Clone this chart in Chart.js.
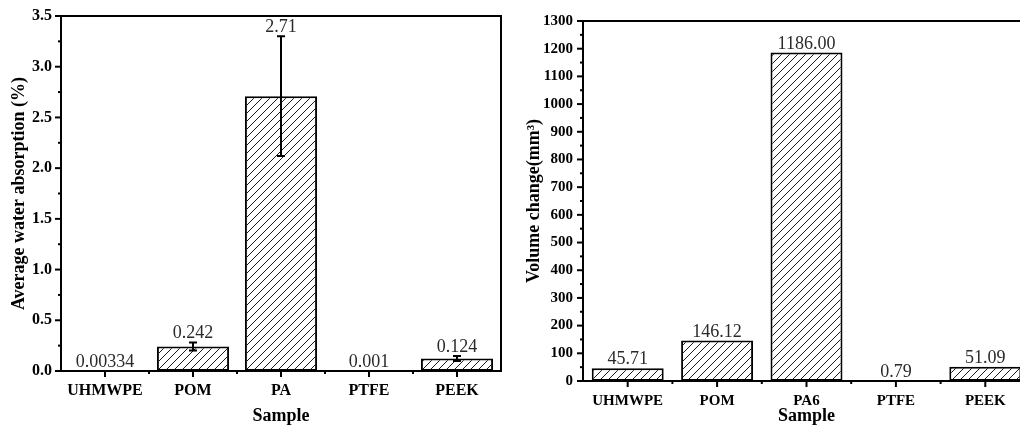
<!DOCTYPE html>
<html>
<head>
<meta charset="utf-8">
<script src="https://cdn.jsdelivr.net/npm/chart.js@4.4.1/dist/chart.umd.min.js"></script>
<style>
  html, body { margin: 0; padding: 0; background: #fff; }
  #wrap { position: relative; width: 1020px; height: 428px; overflow: hidden; background: #fff; }
  #absChart { position: absolute; left: 0; top: 0; }
  #volChart { position: absolute; left: 500px; top: 0; }
</style>
</head>
<body>
<div id="wrap">
  <canvas id="absChart" width="506" height="428"></canvas>
  <canvas id="volChart" width="540" height="428"></canvas>
</div>
<script>
// left panel: water absorption
const samplesA = ["UHMWPE", "POM", "PA", "PTFE", "PEEK"];
const absorption = [0.00334, 0.242, 2.71, 0.001, 0.124];
const absorptionErr = [0, 0.04, 0.59, 0, 0.025];
const absorptionTicks = ["0.0", "0.5", "1.0", "1.5", "2.0", "2.5", "3.0", "3.5"];

// right panel: volume change
const samplesB = ["UHMWPE", "POM", "PA6", "PTFE", "PEEK"];
const volume = [45.71, 146.12, 1186.0, 0.79, 51.09];
const volumeTicks = ["0", "100", "200", "300", "400", "500", "600", "700", "800", "900", "1000", "1100", "1200", "1300"];

const SERIF = "'Liberation Serif', 'Times New Roman', serif";

// diagonal hatch fill
function makeHatch() {
  const c = document.createElement("canvas");
  c.width = 8;
  c.height = 8;
  const g = c.getContext("2d");
  g.fillStyle = "#fff";
  g.fillRect(0, 0, 8, 8);
  g.strokeStyle = "#1a1a1a";
  g.lineWidth = 1;
  g.beginPath();
  g.moveTo(0, 8); g.lineTo(8, 0);
  g.moveTo(-1, 1); g.lineTo(1, -1);
  g.moveTo(7, 9); g.lineTo(9, 7);
  g.stroke();
  return g.createPattern(c, "repeat");
}
const hatch = makeHatch();

// frame, ticks, error bars and value labels
function decor(errors, fmt) {
  return {
    id: "decor",
    afterDatasetsDraw(chart) {
      const { ctx, chartArea: a, scales } = chart;
      const y = scales.y, x = scales.x;
      const bars = chart.getDatasetMeta(0).data;
      const vals = chart.data.datasets[0].data;
      ctx.save();
      ctx.strokeStyle = "#000";
      ctx.lineWidth = 2;
      // error bars
      bars.forEach((b, i) => {
        const e = errors ? errors[i] : 0;
        if (!e) return;
        const t = y.getPixelForValue(vals[i] + e);
        const bt = y.getPixelForValue(vals[i] - e);
        ctx.beginPath();
        ctx.moveTo(b.x, t); ctx.lineTo(b.x, bt);
        ctx.moveTo(b.x - 4, t); ctx.lineTo(b.x + 4, t);
        ctx.moveTo(b.x - 4, bt); ctx.lineTo(b.x + 4, bt);
        ctx.stroke();
      });
      // frame
      ctx.strokeRect(a.left, a.top, a.right - a.left, a.bottom - a.top);
      // y ticks, major + minor
      const tv = y.ticks.map((t) => t.value);
      tv.forEach((v, i) => {
        const p = y.getPixelForValue(v);
        ctx.beginPath(); ctx.moveTo(a.left - 6, p); ctx.lineTo(a.left, p); ctx.stroke();
        if (i < tv.length - 1) {
          const m = y.getPixelForValue((v + tv[i + 1]) / 2);
          ctx.beginPath(); ctx.moveTo(a.left - 3, m); ctx.lineTo(a.left, m); ctx.stroke();
        }
      });
      // x ticks at centres, minor at boundaries
      x.ticks.forEach((t, i) => {
        const p = x.getPixelForValue(i);
        ctx.beginPath(); ctx.moveTo(p, a.bottom); ctx.lineTo(p, a.bottom + 6); ctx.stroke();
        if (i > 0) {
          const m = (p + x.getPixelForValue(i - 1)) / 2;
          ctx.beginPath(); ctx.moveTo(m, a.bottom); ctx.lineTo(m, a.bottom + 3); ctx.stroke();
        }
      });
      // value labels
      ctx.fillStyle = "#2a2a2a";
      ctx.font = "18px " + SERIF;
      ctx.textAlign = "center";
      ctx.textBaseline = "alphabetic";
      bars.forEach((b, i) => {
        const e = errors ? errors[i] : 0;
        const top = Math.min(b.y, y.getPixelForValue(vals[i] + e));
        ctx.fillText(fmt(vals[i]), b.x, top - 4);
      });
      ctx.restore();
    },
  };
}

function buildChart(id, cfg) {
  return new Chart(document.getElementById(id), {
    type: "bar",
    data: {
      labels: cfg.labels,
      datasets: [{
        data: cfg.values,
        backgroundColor: hatch,
        borderColor: "#000",
        borderWidth: 2,
        borderSkipped: false,
        barPercentage: cfg.barPct,
        categoryPercentage: 1,
      }],
    },
    options: {
      responsive: false,
      animation: false,
      layout: { padding: { top: cfg.top, right: cfg.right, left: 0, bottom: 0 } },
      plugins: { legend: { display: false }, tooltip: { enabled: false } },
      scales: {
        x: {
          offset: true,
          grid: { display: false, drawTicks: false },
          border: { display: false },
          ticks: {
            color: "#000", autoSkip: false, maxRotation: 0, padding: cfg.xPad,
            font: { family: SERIF, size: cfg.tickSize, weight: "bold" },
          },
          title: {
            display: true, text: "Sample", color: "#000",
            font: { family: SERIF, size: 18, weight: "bold" },
            padding: { top: 0, bottom: 1 },
          },
          afterFit: (s) => { s.height = cfg.xHeight; s.paddingLeft = 0; s.paddingRight = 0; },
        },
        y: {
          min: 0, max: cfg.max,
          grid: { display: false, drawTicks: false },
          border: { display: false },
          ticks: {
            stepSize: cfg.step, color: "#000", padding: cfg.yPad,
            font: { family: SERIF, size: cfg.tickSize, weight: "bold" },
            callback: (v, i) => cfg.tickText[i],
          },
          title: {
            display: true, text: cfg.yTitle, color: "#000",
            font: { family: SERIF, size: 18, weight: "bold" },
            padding: { top: cfg.titlePad, bottom: 0 },
          },
          afterFit: (s) => { s.width = cfg.yWidth; s.paddingTop = 0; s.paddingBottom = 0; },
        },
      },
    },
    plugins: [decor(cfg.errors, cfg.fmt)],
  });
}

buildChart("absChart", {
  labels: samplesA, values: absorption, errors: absorptionErr,
  max: 3.5, step: 0.5, tickText: absorptionTicks,
  yTitle: "Average water absorption (%)",
  top: 16, right: 5, xHeight: 57, yWidth: 61,
  xPad: 10, yPad: 9, titlePad: 9, tickSize: 16, barPct: 0.82,
  fmt: (v) => String(v),
});

buildChart("volChart", {
  labels: samplesB, values: volume, errors: null,
  max: 1300, step: 100, tickText: volumeTicks,
  yTitle: "Volume change(mm\u00B3)",
  top: 21, right: 10, xHeight: 47, yWidth: 83,
  xPad: 11, yPad: 10, titlePad: 24, tickSize: 15, barPct: 0.805,
  fmt: (v) => v.toFixed(2),
});
</script>
</body>
</html>
